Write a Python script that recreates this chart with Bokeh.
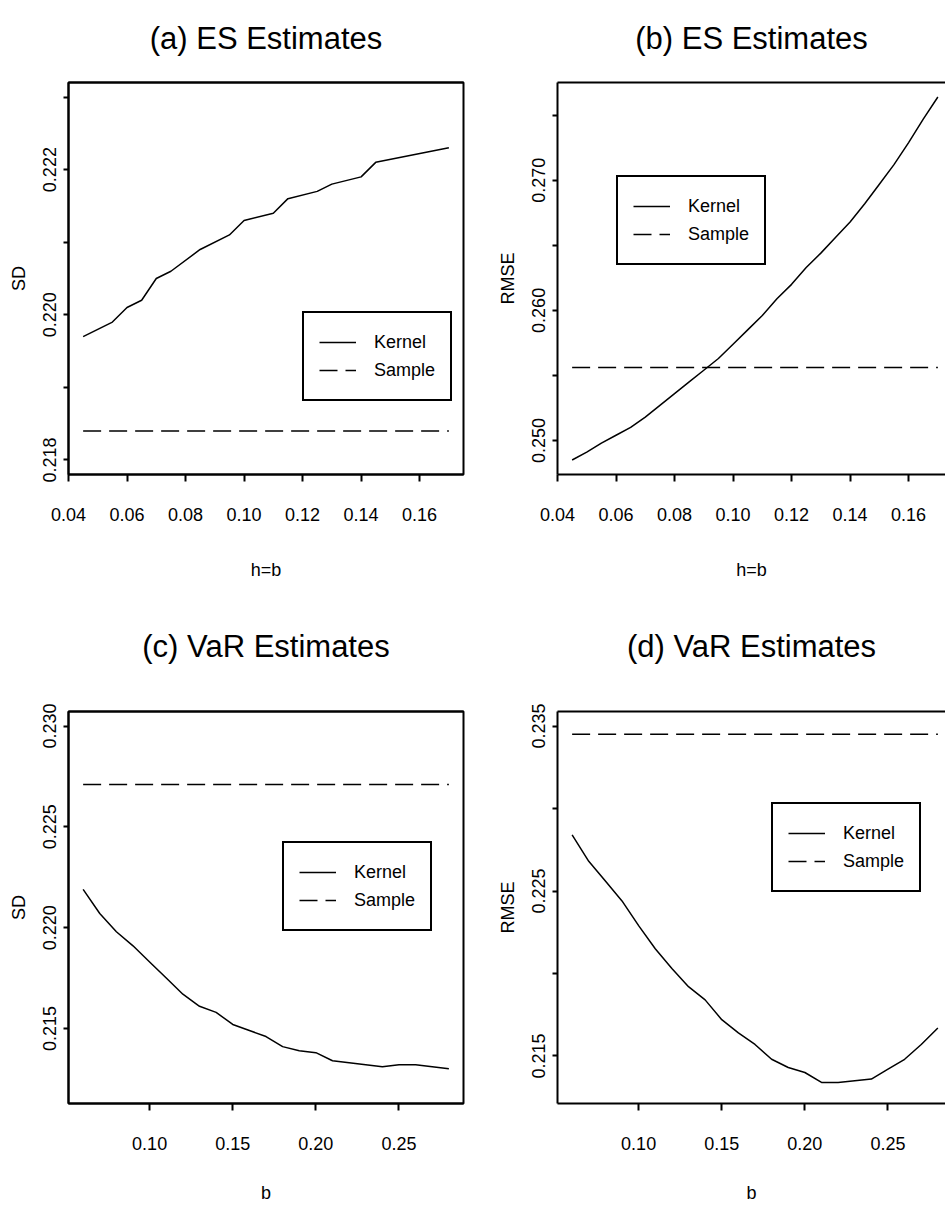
from bokeh.plotting import figure
from bokeh.models import Range1d, FixedTicker, Legend, LegendItem, LinearAxis
from bokeh.layouts import column, row
from bokeh.embed import file_html
from bokeh.resources import INLINE

FONT = "Liberation Sans"

# ---------------- data ----------------
# (a) ES Estimates, SD vs h=b
x_a = [0.045, 0.055, 0.060, 0.065, 0.070, 0.075, 0.085, 0.095, 0.100,
       0.110, 0.115, 0.125, 0.130, 0.140, 0.145, 0.170]
kernel_a = [0.2197, 0.2199, 0.2201, 0.2202, 0.2205, 0.2206, 0.2209, 0.2211, 0.2213,
            0.2214, 0.2216, 0.2217, 0.2218, 0.2219, 0.2221, 0.2223]
sample_a = 0.2184

# (b) ES Estimates, RMSE vs h=b
x_b = [0.045, 0.050, 0.055, 0.060, 0.065, 0.070, 0.075, 0.080, 0.085, 0.090,
       0.095, 0.100, 0.105, 0.110, 0.115, 0.120, 0.125, 0.130, 0.135, 0.140,
       0.145, 0.150, 0.155, 0.160, 0.165, 0.170]
kernel_b = [0.2485, 0.2491, 0.2498, 0.2504, 0.2510, 0.2518, 0.2527, 0.2536, 0.2545, 0.2554,
            0.2563, 0.2574, 0.2585, 0.2596, 0.2609, 0.2620, 0.2633, 0.2644, 0.2656, 0.2668,
            0.2682, 0.2697, 0.2712, 0.2729, 0.2747, 0.2764]
sample_b = 0.2556

# (c) VaR Estimates, SD vs b
x_c = [0.06, 0.07, 0.08, 0.09, 0.10, 0.11, 0.12, 0.13, 0.14, 0.15, 0.16, 0.17,
       0.18, 0.19, 0.20, 0.21, 0.22, 0.23, 0.24, 0.25, 0.26, 0.27, 0.28]
kernel_c = [0.2219, 0.2207, 0.2198, 0.2191, 0.2183, 0.2175, 0.2167, 0.2161, 0.2158, 0.2152,
            0.2149, 0.2146, 0.2141, 0.2139, 0.2138, 0.2134, 0.2133, 0.2132, 0.2131, 0.2132,
            0.2132, 0.2131, 0.2130]
sample_c = 0.2271

# (d) VaR Estimates, RMSE vs b
x_d = x_c
kernel_d = [0.2284, 0.2268, 0.2256, 0.2244, 0.2229, 0.2215, 0.2203, 0.2192, 0.2184, 0.2172,
            0.2164, 0.2157, 0.2148, 0.2143, 0.2140, 0.2134, 0.2134, 0.2135, 0.2136, 0.2142,
            0.2148, 0.2157, 0.2167]
sample_d = 0.2345

ylim_a = [0.218, 0.223]
ylim_b = [min(kernel_b + [sample_b]), max(kernel_b + [sample_b])]
ylim_c = [0.212, 0.230]
ylim_d = [0.213, 0.235]

xticks_ab = [0.04, 0.06, 0.08, 0.10, 0.12, 0.14, 0.16]
xlabels_ab = ["0.04", "0.06", "0.08", "0.10", "0.12", "0.14", "0.16"]
xticks_cd = [0.10, 0.15, 0.20, 0.25]
xlabels_cd = ["0.10", "0.15", "0.20", "0.25"]
yticks_a = [0.218, 0.219, 0.220, 0.221, 0.222, 0.223]
ylabels_a = ["0.218", "", "0.220", "", "0.222", ""]
yticks_b = [0.250, 0.255, 0.260, 0.265, 0.270, 0.275]
ylabels_b = ["0.250", "", "0.260", "", "0.270", ""]
yticks_c = [0.215, 0.220, 0.225, 0.230]
ylabels_c = ["0.215", "0.220", "0.225", "0.230"]
yticks_d = [0.215, 0.220, 0.225, 0.230, 0.235]
ylabels_d = ["0.215", "", "0.225", "", "0.235"]

FRAME_W_FULL = 395


def expand(lo, hi, frac=0.04):
    d = (hi - lo) * frac
    return lo - d, hi + d


def make_panel(title, xlab, ylab, x, kern, samp, ylim, xticks, xlabels, yticks, ylabels,
               right_side, top_row, legend_loc):
    width = 456 if right_side else 489
    height = 603
    b_left = 68
    b_right = 0 if right_side else 26
    b_top = 82 if top_row else 108
    b_bottom = 129 if top_row else 103
    frame_w = width - b_left - b_right

    x0, x1 = expand(min(x), max(x))
    if right_side:
        # the original figure is cropped on the right: only part of the frame is visible
        x1 = x0 + (x1 - x0) * frame_w / FRAME_W_FULL
    y0, y1 = expand(ylim[0], ylim[1])

    p = figure(width=width, height=height, output_backend="svg", toolbar_location=None,
               title=None, x_axis_location=None, y_axis_location=None,
               x_range=Range1d(x0, x1), y_range=Range1d(y0, y1),
               min_border_left=b_left, min_border_right=b_right,
               min_border_top=b_top, min_border_bottom=b_bottom)
    p.background_fill_color = "white"
    p.border_fill_color = "white"
    p.grid.visible = False
    if right_side:
        p.outline_line_color = None
    else:
        p.outline_line_color = "black"
        p.outline_line_width = 2
        p.outline_line_alpha = 1.0

    # title drawn as the label of a tick-less top axis (its line is the top frame edge)
    top = LinearAxis(ticker=FixedTicker(ticks=[]), axis_label=title)
    top.axis_line_color = "black"
    top.axis_line_width = 2
    top.major_tick_line_color = None
    top.minor_tick_line_color = None
    top.axis_label_text_font = FONT
    top.axis_label_text_font_size = "31px"
    top.axis_label_text_font_style = "normal"
    top.axis_label_text_color = "black"
    top.axis_label_standoff = 27 if top_row else 48
    p.add_layout(top, "above")

    xa = LinearAxis(ticker=FixedTicker(ticks=xticks))
    xa.major_label_overrides = {t: l for t, l in zip(xticks, xlabels)}
    xa.minor_tick_line_color = None
    xa.major_tick_out = 7
    xa.major_tick_in = 0
    xa.major_tick_line_width = 2
    xa.axis_line_width = 2
    xa.axis_line_color = "black"
    xa.major_label_standoff = 26
    xa.major_label_text_font = FONT
    xa.major_label_text_font_size = "18px"
    xa.major_label_text_color = "black"
    xa.axis_label = xlab
    xa.axis_label_text_font = FONT
    xa.axis_label_text_font_size = "18px"
    xa.axis_label_text_font_style = "normal"
    xa.axis_label_text_color = "black"
    xa.axis_label_standoff = 36 if top_row else 30
    p.add_layout(xa, "below")

    ya = LinearAxis(ticker=FixedTicker(ticks=yticks))
    ya.major_label_overrides = {t: l for t, l in zip(yticks, ylabels)}
    ya.minor_tick_line_color = None
    ya.major_tick_out = 5
    ya.major_tick_in = 0
    ya.major_tick_line_width = 2
    ya.axis_line_width = 2
    ya.axis_line_color = "black"
    ya.major_label_orientation = "parallel"
    ya.major_label_standoff = 7
    ya.major_label_text_font = FONT
    ya.major_label_text_font_size = "18px"
    ya.major_label_text_color = "black"
    ya.axis_label = ylab
    ya.axis_label_text_font = FONT
    ya.axis_label_text_font_size = "18px"
    ya.axis_label_text_font_style = "normal"
    ya.axis_label_text_color = "black"
    ya.axis_label_standoff = 12
    p.add_layout(ya, "left")

    r_k = p.line(x, kern, line_color="black", line_width=1.5)
    r_s = p.line([x[0], x[-1]], [samp, samp], line_color="black", line_width=1.5,
                 line_dash="18 8")

    leg = Legend(items=[LegendItem(label="Kernel", renderers=[r_k]),
                        LegendItem(label="Sample", renderers=[r_s])],
                 location=legend_loc)
    leg.margin = 0
    leg.padding = 15
    leg.spacing = 0
    leg.label_height = 28
    leg.glyph_height = 28
    leg.glyph_width = 37
    leg.label_standoff = 18
    leg.label_text_font = FONT
    leg.label_text_font_size = "18px"
    leg.label_text_color = "black"
    leg.border_line_color = "black"
    leg.border_line_alpha = 1.0
    leg.border_line_width = 2
    leg.background_fill_color = "white"
    leg.background_fill_alpha = 1.0
    p.add_layout(leg)
    return p


pa = make_panel("(a) ES Estimates", "h=b", "SD", x_a, kernel_a, sample_a, ylim_a,
                xticks_ab, xlabels_ab, yticks_a, ylabels_a, False, True, (234, 73))
pb = make_panel("(b) ES Estimates", "h=b", "RMSE", x_b, kernel_b, sample_b, ylim_b,
                xticks_ab, xlabels_ab, yticks_b, ylabels_b, True, True, (59, 209))
pc = make_panel("(c) VaR Estimates", "b", "SD", x_c, kernel_c, sample_c, ylim_c,
                xticks_cd, xlabels_cd, yticks_c, ylabels_c, False, False, (214, 172))
pd = make_panel("(d) VaR Estimates", "b", "RMSE", x_d, kernel_d, sample_d, ylim_d,
                xticks_cd, xlabels_cd, yticks_d, ylabels_d, True, False, (214, 211))

layout = column(row(pa, pb, spacing=0), row(pc, pd, spacing=0), spacing=0)

with open("out.html", "w") as f:
    f.write(file_html(layout, INLINE))
